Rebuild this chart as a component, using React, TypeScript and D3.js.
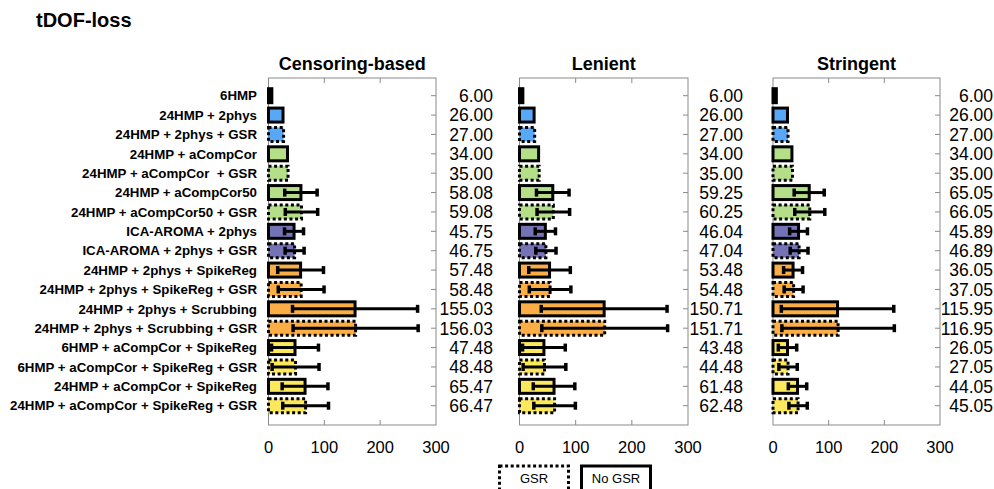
import React from "react";
import * as d3 from "d3";

const categories = [
  "6HMP",
  "24HMP + 2phys",
  "24HMP + 2phys + GSR",
  "24HMP + aCompCor",
  "24HMP + aCompCor  + GSR",
  "24HMP + aCompCor50",
  "24HMP + aCompCor50 + GSR",
  "ICA-AROMA + 2phys",
  "ICA-AROMA + 2phys + GSR",
  "24HMP + 2phys + SpikeReg",
  "24HMP + 2phys + SpikeReg + GSR",
  "24HMP + 2phys + Scrubbing",
  "24HMP + 2phys + Scrubbing + GSR",
  "6HMP + aCompCor + SpikeReg",
  "6HMP + aCompCor + SpikeReg + GSR",
  "24HMP + aCompCor + SpikeReg",
  "24HMP + aCompCor + SpikeReg + GSR",
];

const gsrFlags = [false, false, true, false, true, false, true, false, true, false, true, false, true, false, true, false, true];

const colorGroups = ["black", "blue", "blue", "green", "green", "green", "green", "purple", "purple", "orange", "orange", "orange", "orange", "yellow", "yellow", "yellow", "yellow"];

const palette: Record<string, string> = {
  black: "#000000",
  blue: "#58a8f8",
  green: "#b4df88",
  purple: "#7672b6",
  orange: "#fbae46",
  yellow: "#fce85c",
};

const panelTitles = ["Censoring-based", "Lenient", "Stringent"];

const censoringValues = [6.0, 26.0, 27.0, 34.0, 35.0, 58.08, 59.08, 45.75, 46.75, 57.48, 58.48, 155.03, 156.03, 47.48, 48.48, 65.47, 66.47];
const censoringErr = [0, 0, 0, 0, 0, 29, 29, 17, 17, 41, 41, 112, 112, 42, 42, 41, 41];

const lenientValues = [6.0, 26.0, 27.0, 34.0, 35.0, 59.25, 60.25, 46.04, 47.04, 53.48, 54.48, 150.71, 151.71, 43.48, 44.48, 61.48, 62.48];
const lenientErr = [0, 0, 0, 0, 0, 29, 29, 18, 18, 37, 37, 112, 112, 38, 38, 37, 37];

const stringentValues = [6.0, 26.0, 27.0, 34.0, 35.0, 65.05, 66.05, 45.89, 46.89, 36.05, 37.05, 115.95, 116.95, 26.05, 27.05, 44.05, 45.05];
const stringentErr = [0, 0, 0, 0, 0, 27, 27, 16, 16, 17, 17, 101, 101, 16.5, 16.5, 16.5, 16.5];

const xTicks = [0, 100, 200, 300];
const legendLabels = ["GSR", "No GSR"];

const FONT = "'Liberation Sans', Arial, Helvetica, sans-serif";

const W = 994;
const H = 489;
const TOP = 78;
const BOTTOM = 425;

const panelRanges: [number, number][] = [
  [268.5, 436],
  [519.5, 688],
  [773, 940],
];
const valueRight = [493, 743, 993];

const panelValues = [censoringValues, lenientValues, stringentValues];
const panelErrs = [censoringErr, lenientErr, stringentErr];

const y = d3.scalePoint<string>().domain(categories).range([95.7, 405.7]);
const BAR_H = 14;
const FRAME = "#8a8a8a";

function Panel({ idx }: { idx: number }) {
  const [x0, x1] = panelRanges[idx];
  const x = d3.scaleLinear().domain([0, 300]).range([x0, x1]);
  const vals = panelValues[idx];
  const errs = panelErrs[idx];
  return (
    <g>
      <text
        x={(x0 + x1) / 2}
        y={70}
        textAnchor="middle"
        fontFamily={FONT}
        fontWeight="bold"
        fontSize={18}
      >
        {panelTitles[idx]}
      </text>
      <rect x={x0} y={TOP} width={x1 - x0} height={BOTTOM - TOP} fill="none" stroke={FRAME} strokeWidth={1} />
      {xTicks.slice(1, -1).map((t) => (
        <g key={t}>
          <line x1={x(t)} x2={x(t)} y1={TOP} y2={TOP + 5} stroke={FRAME} />
          <line x1={x(t)} x2={x(t)} y1={BOTTOM} y2={BOTTOM - 5} stroke={FRAME} />
        </g>
      ))}
      {categories.map((c) => (
        <line key={c} x1={x1} x2={x1 - 5} y1={y(c)!} y2={y(c)!} stroke={FRAME} />
      ))}
      {xTicks.map((t) => (
        <text key={t} x={x(t)} y={453} textAnchor="middle" fontFamily={FONT} fontSize={16.5}>
          {t}
        </text>
      ))}
      {categories.map((c, i) => {
        const cy = y(c)!;
        const fill = palette[colorGroups[i]];
        return (
          <rect
            key={c}
            x={x(0)}
            y={cy - BAR_H / 2}
            width={x(vals[i]) - x(0)}
            height={BAR_H}
            fill={fill}
            stroke="#000"
            strokeWidth={3}
            strokeDasharray={gsrFlags[i] ? "3,2.6" : undefined}
          />
        );
      })}
      {categories.map((c, i) => {
        if (!errs[i]) return null;
        const cy = y(c)!;
        const lo = x(vals[i] - errs[i]);
        const hi = x(vals[i] + errs[i]);
        return (
          <g key={c}>
            <line x1={lo} x2={hi} y1={cy} y2={cy} stroke="#000" strokeWidth={3} />
            <line x1={lo} x2={lo} y1={cy - 4} y2={cy + 4} stroke="#000" strokeWidth={3.5} />
            <line x1={hi} x2={hi} y1={cy - 4} y2={cy + 4} stroke="#000" strokeWidth={3.5} />
          </g>
        );
      })}
      {categories.map((c, i) => (
        <text
          key={c}
          x={valueRight[idx]}
          y={y(c)!}
          dy="0.36em"
          textAnchor="end"
          fontFamily={FONT}
          fontSize={17.5}
        >
          {vals[i].toFixed(2)}
        </text>
      ))}
    </g>
  );
}

export default function App() {
  return (
    <svg
      width={W}
      height={H}
      viewBox={`0 0 ${W} ${H}`}
      style={{ position: "absolute", left: 0, top: 0, background: "#fff" }}
    >
      <rect x={0} y={0} width={W} height={H} fill="#fff" />
      <text x={36} y={27} fontFamily={FONT} fontWeight="bold" fontSize={20}>
        tDOF-loss
      </text>
      {categories.map((c) => (
        <text
          key={c}
          x={257}
          y={y(c)!}
          dy="0.36em"
          textAnchor="end"
          fontFamily={FONT}
          fontWeight="bold"
          fontSize={13.3}
          style={{ whiteSpace: "pre" }}
        >
          {c}
        </text>
      ))}
      {[0, 1, 2].map((i) => (
        <Panel key={i} idx={i} />
      ))}
      <rect x={499.5} y={466} width={69} height={30} fill="#fff" stroke="#000" strokeWidth={3} strokeDasharray="3,2.6" />
      <text x={534} y={483} textAnchor="middle" fontFamily={FONT} fontSize={13}>
        {legendLabels[0]}
      </text>
      <rect x={581.5} y={466} width={69} height={30} fill="#fff" stroke="#000" strokeWidth={3} />
      <text x={616} y={483} textAnchor="middle" fontFamily={FONT} fontSize={13}>
        {legendLabels[1]}
      </text>
    </svg>
  );
}
